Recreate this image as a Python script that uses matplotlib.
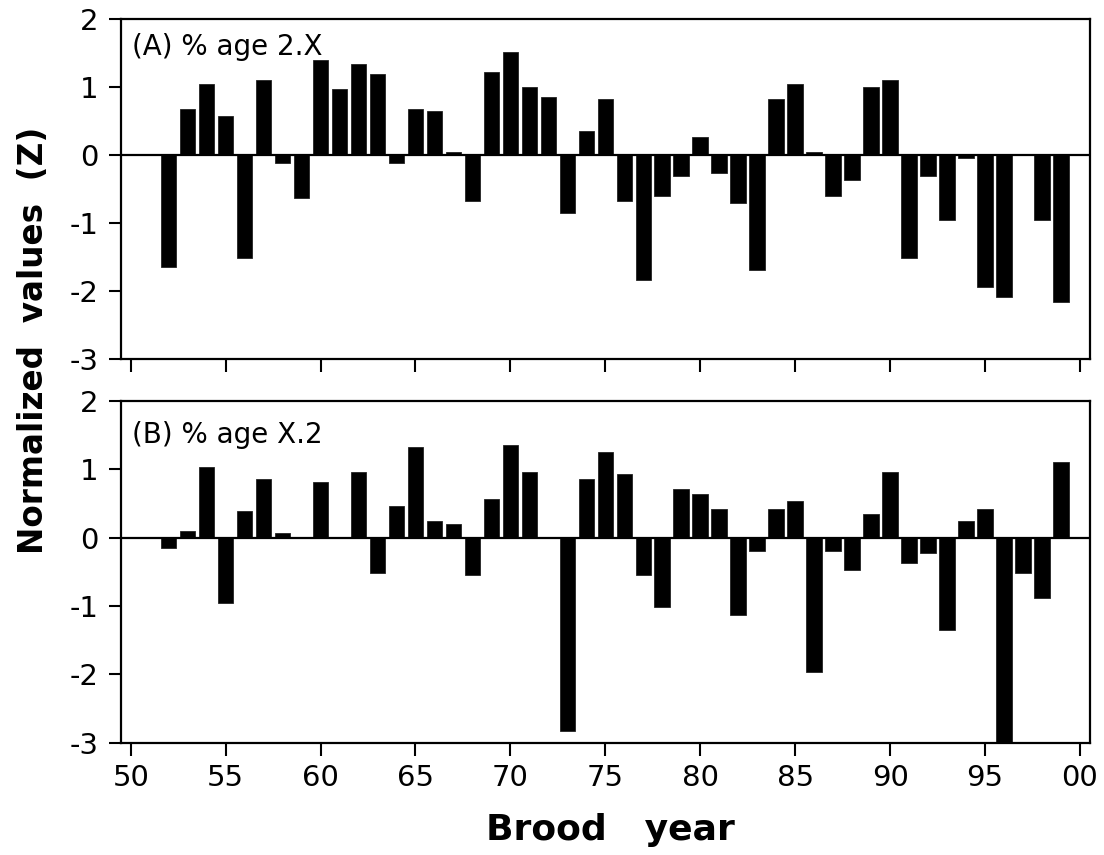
import matplotlib
matplotlib.use("Agg")
import matplotlib.pyplot as plt

plt.rcParams['font.family'] = ['DejaVu Sans']
plt.rcParams['axes.unicode_minus'] = False

years = list(range(52, 100))

# (A) % age 2.X
age_2x = [-1.65, 0.67, 1.04, 0.57, -1.51, 1.11, -0.12, -0.63, 1.40, 0.97,
          1.34, 1.19, -0.12, 0.67, 0.64, 0.05, -0.67, 1.22, 1.51, 1.00,
          0.85, -0.85, 0.35, 0.82, -0.67, -1.84, -0.60, -0.31, 0.27, -0.27,
          -0.71, -1.69, 0.82, 1.04, 0.05, -0.60, -0.37, 1.00, 1.11, -1.51,
          -0.31, -0.96, -0.05, -1.94, -2.09, 0.0, -0.96, -2.16]

# (B) % age X.2
age_x2 = [-0.15, 0.10, 1.04, -0.95, 0.39, 0.86, 0.07, 0.01, 0.82, 0.01,
          0.96, -0.52, 0.46, 1.33, 0.24, 0.20, -0.55, 0.57, 1.36, 0.96,
          0.01, -2.83, 0.86, 1.26, 0.93, -0.55, -1.02, 0.71, 0.64, 0.42,
          -1.13, -0.19, 0.42, 0.53, -1.96, -0.19, -0.48, 0.35, 0.96, -0.37,
          -0.22, -1.35, 0.24, 0.42, -3.20, -0.52, -0.88, 1.11]

xticks = [50, 55, 60, 65, 70, 75, 80, 85, 90, 95, 100]
xticklabels = ['50', '55', '60', '65', '70', '75', '80', '85', '90', '95', '00']
yticks = [-3, -2, -1, 0, 1, 2]
panel_labels = ['(A) % age 2.X', '(B) % age X.2']

fig = plt.figure(figsize=(11.04, 8.55), dpi=100)
ax1 = fig.add_axes([0.1093, 0.5801, 0.9873 - 0.1093, 0.9778 - 0.5801])
ax2 = fig.add_axes([0.1093, 0.1313, 0.9873 - 0.1093, 0.531 - 0.1313])

for ax, vals, lab, ly in [(ax1, age_2x, panel_labels[0], 0.958),
                          (ax2, age_x2, panel_labels[1], 0.94)]:
    ax.bar(years, vals, width=0.82, color='black', edgecolor='#222222',
           linewidth=0.6, zorder=2)
    ax.axhline(0, color='black', lw=1.6, zorder=3)
    ax.set_xlim(49.47, 100.53)
    ax.set_ylim(-3, 2)
    ax.set_yticks(yticks)
    ax.set_yticklabels([str(v) for v in yticks])
    ax.set_xticks(xticks)
    for s in ax.spines.values():
        s.set_linewidth(1.6)
    ax.tick_params(axis='both', direction='out', length=9, width=1.5,
                   labelsize=21, pad=6)
    ax.tick_params(axis='y', pad=7)
    ax.text(0.0117, ly, lab, transform=ax.transAxes, ha='left', va='top',
            fontsize=20)

ax1.set_xticklabels([])
ax2.set_xticklabels(xticklabels)

fig.text(0.553, 0.029, 'Brood   year', ha='center', va='center',
         fontsize=26, fontweight='bold')
fig.text(0.03, 0.602, 'Normalized  values  (Z)', ha='center', va='center',
         rotation=90, fontsize=23.5, fontweight='bold')

fig.savefig('out.png', dpi=100)
